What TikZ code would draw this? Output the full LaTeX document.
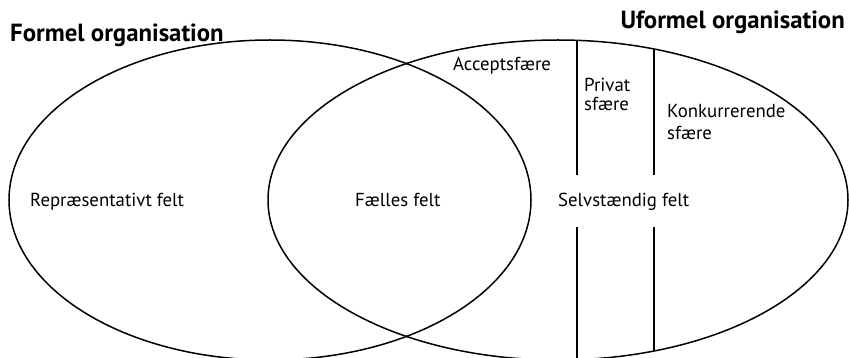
\documentclass[tikz,border=0pt]{standalone}
\usepackage{fontspec}
\setmainfont{PT Sans}
\begin{document}
\begin{tikzpicture}[x=1pt,y=-1pt,
  ring/.style={line width=1.5pt},
  divider/.style={line width=1.3pt},
  title/.style={font=\fontsize{24.8}{28}\selectfont\bfseries, inner sep=0pt},
  lbl/.style={font=\fontsize{18.8}{21}\selectfont, inner sep=0pt, anchor=base west}]
\useasboundingbox (0,0) rectangle (849,358);
\draw[ring] (270,200) ellipse [x radius=261, y radius=160];
\draw[ring] (558,200) ellipse [x radius=290, y radius=160];
% dividers
\coordinate (d1t) at (577,40.3);
\coordinate (d1a) at (577,175);
\coordinate (d1b) at (577,227);
\coordinate (d1e) at (577,360);
\coordinate (d2t) at (654,49);
\coordinate (d2a) at (654,175);
\coordinate (d2b) at (654,227);
\coordinate (d2e) at (654,351);
\draw[divider] (d1t) -- (d1a);
\draw[divider] (d1b) -- (d1e);
\draw[divider] (d2t) -- (d2a);
\draw[divider] (d2b) -- (d2e);
% titles
\node[title, anchor=base west] (formel) at (10,41.5) {Formel organisation};
\node[title, anchor=base east] (uformel) at (845,28.5) {Uformel organisation};
% labels
\node[lbl] (accept) at (453,70.7) {Acceptsfære};
\node[lbl] (privat) at (584,91.7) {Privat};
\node[lbl] (privat2) at (584,110.7) {sfære};
\node[lbl] (konk) at (667,118) {Konkurrerende};
\node[lbl] (konk2) at (667,140) {sfære};
\node[lbl] (repr) at (30,207) {Repræsentativt felt};
\node[lbl] (faelles) at (355,207) {Fælles felt};
\node[lbl] (selv) at (558,207) {Selvstændig felt};
\end{tikzpicture}
\end{document}
